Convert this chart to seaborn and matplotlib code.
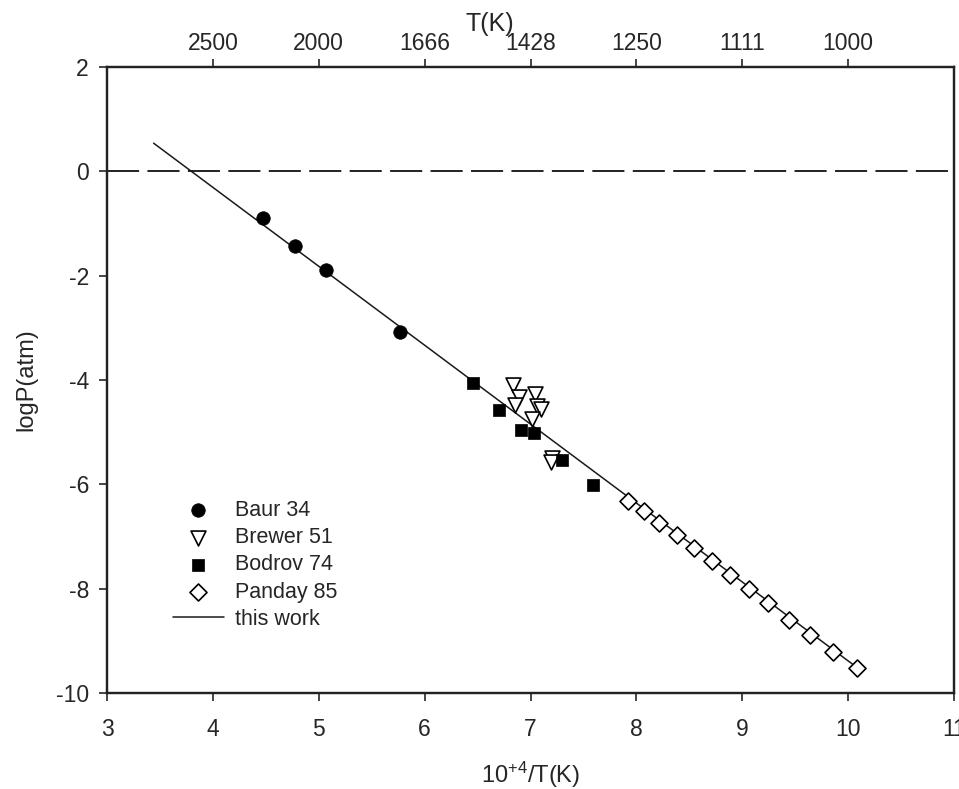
import matplotlib
matplotlib.use("Agg")
import matplotlib.pyplot as plt
import seaborn as sns

# Vapour pressure data: x = 10^4 / T(K), y = log P (atm)
baur_x = [4.47, 4.78, 5.07, 5.77]
baur_logp = [-0.90, -1.43, -1.90, -3.08]

brewer_x = [6.83, 6.89, 6.85, 7.04, 7.06, 7.10, 7.01, 7.20, 7.19]
brewer_logp = [-4.10, -4.32, -4.47, -4.27, -4.49, -4.56, -4.75, -5.50, -5.57]

bodrov_x = [6.46, 6.70, 6.91, 7.03, 7.30, 7.59]
bodrov_logp = [-4.05, -4.57, -4.96, -5.02, -5.53, -6.01]

panday_x = [7.92, 8.07, 8.21, 8.38, 8.54, 8.71, 8.88, 9.06, 9.24, 9.44, 9.64, 9.86, 10.08]
panday_logp = [-6.32, -6.52, -6.75, -6.98, -7.23, -7.47, -7.74, -8.01, -8.27, -8.60,
               -8.89, -9.21, -9.53]

# fitted line ("this work")
fit_x = [3.44, 10.05]
fit_logp = [0.54, -9.46]

x_ticks = [3, 4, 5, 6, 7, 8, 9, 10, 11]
y_ticks = [-10, -8, -6, -4, -2, 0, 2]
temp_ticks = [4, 5, 6, 7, 8, 9, 10]
temp_labels = ["2500", "2000", "1666", "1428", "1250", "1111", "1000"]

sns.set_style("ticks")
plt.rcParams["font.family"] = ["Liberation Sans", "DejaVu Sans"]
plt.rcParams["mathtext.fontset"] = "custom"
plt.rcParams["mathtext.rm"] = "Liberation Sans"
plt.rcParams["mathtext.it"] = "Liberation Sans"
plt.rcParams["axes.unicode_minus"] = False

FS_TICK = 16.5
FS_LABEL = 17
FS_LEG = 15.5

fig = plt.figure(figsize=(9.59, 7.89), dpi=100)
W, H = 959, 789
ax = fig.add_axes([107 / W, 1 - 693 / H, (954 - 107) / W, (693 - 67) / H])

# reference level log P = 0
ax.axhline(0, color="#222222", lw=1.4, linestyle=(0, (16.5, 4.3)), zorder=1)

sns.lineplot(x=fit_x, y=fit_logp, color="#1a1a1a", lw=1.1, label="this work",
             ax=ax, zorder=2)
sns.scatterplot(x=baur_x, y=baur_logp, marker="o", s=95, color="black",
                edgecolor="black", linewidth=0.5, label="Baur 34", ax=ax, zorder=3)
sns.scatterplot(x=brewer_x, y=brewer_logp, marker="v", s=115, color="white",
                edgecolor="black", linewidth=1.2, label="Brewer 51", ax=ax, zorder=3)
sns.scatterplot(x=bodrov_x, y=bodrov_logp, marker="s", s=80, color="black",
                edgecolor="black", linewidth=0.5, label="Bodrov 74", ax=ax, zorder=3)
sns.scatterplot(x=panday_x, y=panday_logp, marker="D", s=75, color="white",
                edgecolor="black", linewidth=1.2, label="Panday 85", ax=ax, zorder=3)

ax.set_xlim(3, 11)
ax.set_ylim(-10, 2)
ax.set_xticks(x_ticks)
ax.set_yticks(y_ticks)
ax.tick_params(axis="x", direction="out", length=6, width=1.2, pad=12,
               labelsize=FS_TICK, bottom=True, top=False)
ax.tick_params(axis="y", direction="out", length=6, width=1.2, pad=7,
               labelsize=FS_TICK, left=True, right=False)
for sp in ax.spines.values():
    sp.set_visible(True)
    sp.set_linewidth(1.6)
    sp.set_color("#222222")

ax.set_xlabel(r"10$^{+4}$/T(K)", fontsize=FS_LABEL)
ax.xaxis.set_label_coords(0.5, -0.107)
ax.set_ylabel("logP(atm)", fontsize=FS_LABEL)
ax.yaxis.set_label_coords((37 - 107) / 847, 0.5)

# temperature scale on top
ax2 = ax.twiny()
ax2.set_xlim(ax.get_xlim())
ax2.set_xticks(temp_ticks)
ax2.set_xticklabels(temp_labels)
ax2.tick_params(axis="x", direction="out", length=6, width=1.2, pad=3,
                labelsize=FS_TICK)
for sp in ax2.spines.values():
    sp.set_linewidth(1.6)
    sp.set_color("#222222")
ax2.set_xlabel("T(K)", fontsize=FS_LABEL + 1)
ax2.xaxis.set_label_coords((490 - 107) / 847, 1.058)

handles, labels = ax.get_legend_handles_labels()
order = ["Baur 34", "Brewer 51", "Bodrov 74", "Panday 85", "this work"]
hmap = dict(zip(labels, handles))
leg = ax.legend([hmap[k] for k in order], order, loc="upper left",
                bbox_to_anchor=((173 - 107) / 847, (693 - 500) / 626),
                frameon=False, fontsize=FS_LEG, borderpad=0, borderaxespad=0,
                handlelength=2.35, handletextpad=0.55, labelspacing=0.29)

fig.savefig("out.png", dpi=100)
